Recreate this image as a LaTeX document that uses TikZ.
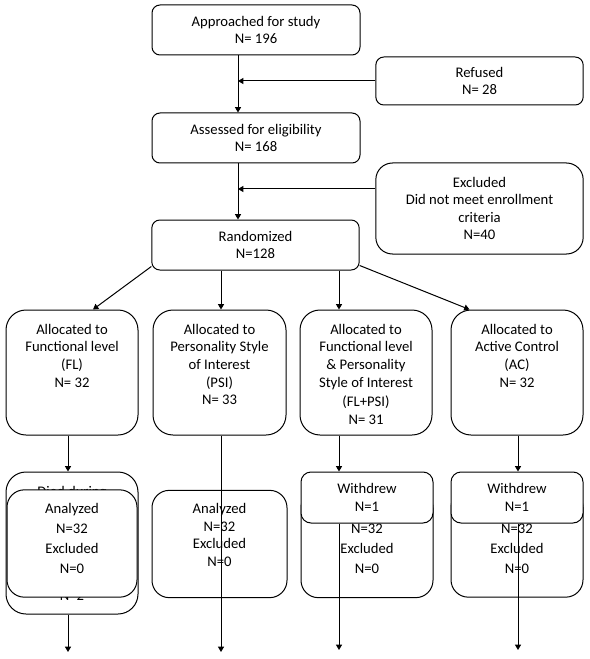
\documentclass[tikz,border=0pt]{standalone}
\usepackage{fontspec}
\setmainfont{Carlito}
\usetikzlibrary{positioning,calc,arrows.meta}
\begin{document}
\begin{tikzpicture}[x=0.75pt, y=-0.75pt,
  box/.style={draw, fill=white, line width=0.75pt, rounded corners=6pt, inner sep=0pt,
    align=center, font=\fontsize{11}{13.2}\selectfont},
  wide/.style={box, minimum width=155.5pt, minimum height=37.5pt},
  arm/.style={box, rounded corners=15pt, minimum width=99pt, minimum height=93.75pt},
  res/.style={box, rounded corners=13pt, minimum width=99pt, minimum height=80.5pt},
  quit/.style={box, rounded corners=7.5pt, minimum width=99pt, minimum height=38.25pt},
  txt/.style={inner sep=0pt, align=center, font=\fontsize{11}{13.2}\selectfont},
  arr/.style={-{Triangle[width=4.5pt,length=4pt]}, line width=0.75pt}]
\useasboundingbox (0,0) rectangle (589,659);

% columns of the connectors
\coordinate (sp) at (238,0);
\coordinate (c1) at (68,0);
\coordinate (c2) at (221,0);
\coordinate (c3) at (339,0);
\coordinate (c4) at (518,0);

% screening
\node[wide, minimum width=156pt] (app) at (256,30) {Approached for study\\N= 196};
\node[wide, minimum height=36pt] (ref) at (479.5,81) {Refused\\N= 28};
\node[wide, minimum width=156pt] (ass) at (256,138) {Assessed for eligibility\\N= 168};
\node[wide, rounded corners=12.5pt, minimum height=68.25pt] (exc) at (479.5,208.5)
  {Excluded\\Did not meet enrollment\\criteria\\N=40};
\node[wide] (ran) at (255.5,245) {Randomized\\N=128};

\coordinate (exj) at (238,189);
\draw[arr] (app.south -| sp) -- (ass.north -| sp);
\draw[arr] (ref.west) -- (ref.west -| sp);
\draw[arr] (ass.south -| sp) -- (ran.north -| sp);
\draw[arr] (exj -| exc.west) -- (exj);

% allocation
\node[arm] (fl) at (72,372.5) {};
\node[arm, minimum width=99.75pt] (psi) at (219.5,372.5) {};
\node[arm] (flpsi) at (366,372.5) {};
\node[arm] (ac) at (517,372.5) {};
\node[txt, below=10.8pt of fl.north] (flt) {Allocated to\\Functional level\\(FL)\\N= 32};
\node[txt, below=10.8pt of psi.north] (psit) {Allocated to\\Personality Style\\of Interest\\(PSI)\\N= 33};
\node[txt, below=10.8pt of flpsi.north] (flpsit)
  {Allocated to\\Functional level\\\& Personality\\Style of Interest\\[1.5pt](FL+PSI)\\N= 31};
\node[txt, below=10.8pt of ac.north] (act) {Allocated to\\Active Control\\(AC)\\N= 32};

\draw[arr] ($(ran.south west)+(0,-4)$) -- ($(fl.north)+(21,0)$);
\draw[arr] (ran.south -| c2) -- (psi.north -| c2);
\draw[arr] (ran.south -| c3) -- (flpsi.north -| c3);
\draw[arr] ($(ran.south east)+(0,-5)$) -- ($(ac.north west)+(19,0)$);

% follow-up and analysis
\node[arm, minimum height=106.5pt] (died) at (72,543) {};
\node[txt, below=10.8pt of died.north] (diedt) {Died during};
\node[txt, above=10pt of died.south] (diedn) {N=2};
\node[res, minimum width=97.5pt] (an1) at (72,543.5) {};
\node[txt, font=\fontsize{11}{15}\selectfont, below=10pt of an1.north] (an1t)
  {Analyzed\\N=32\\Excluded\\N=0};
\draw[arr] (fl.south -| c1) -- (died.north -| c1);
\coordinate (e1) at (68,652);
\draw[arr] (died.south -| c1) -- (e1);

\node[res, minimum width=101.25pt] (an2) at (219.5,544) {};
\node[txt, below=10pt of an2.north] (an2t) {Analyzed\\N=32\\Excluded\\N=0};
\coordinate (e2) at (221,652);
\draw[arr] (psi.south -| c2) -- (e2);

\node[res] (an3) at (367,544) {};
\node[txt, font=\fontsize{11}{15}\selectfont, below=10pt of an3.north] (an3t)
  {\phantom{Analyzed}\\N=32\\Excluded\\N=0};
\node[quit] (wd3) at (367,497.5) {Withdrew\\N=1};
\coordinate (e3) at (339,650);
\draw[arr] (flpsi.south -| c3) -- (wd3.north -| c3);
\draw[arr] (wd3.south -| c3) -- (e3);

\node[res] (an4) at (517,543.5) {};
\node[txt, font=\fontsize{11}{15}\selectfont, below=10pt of an4.north] (an4t)
  {\phantom{Analyzed}\\N=32\\Excluded\\N=0};
\node[quit] (wd4) at (517,497.5) {Withdrew\\N=1};
\coordinate (e4) at (518,650);
\draw[arr] (ac.south -| c4) -- (wd4.north -| c4);
\draw[arr] (wd4.south -| c4) -- (e4);
\end{tikzpicture}
\end{document}
